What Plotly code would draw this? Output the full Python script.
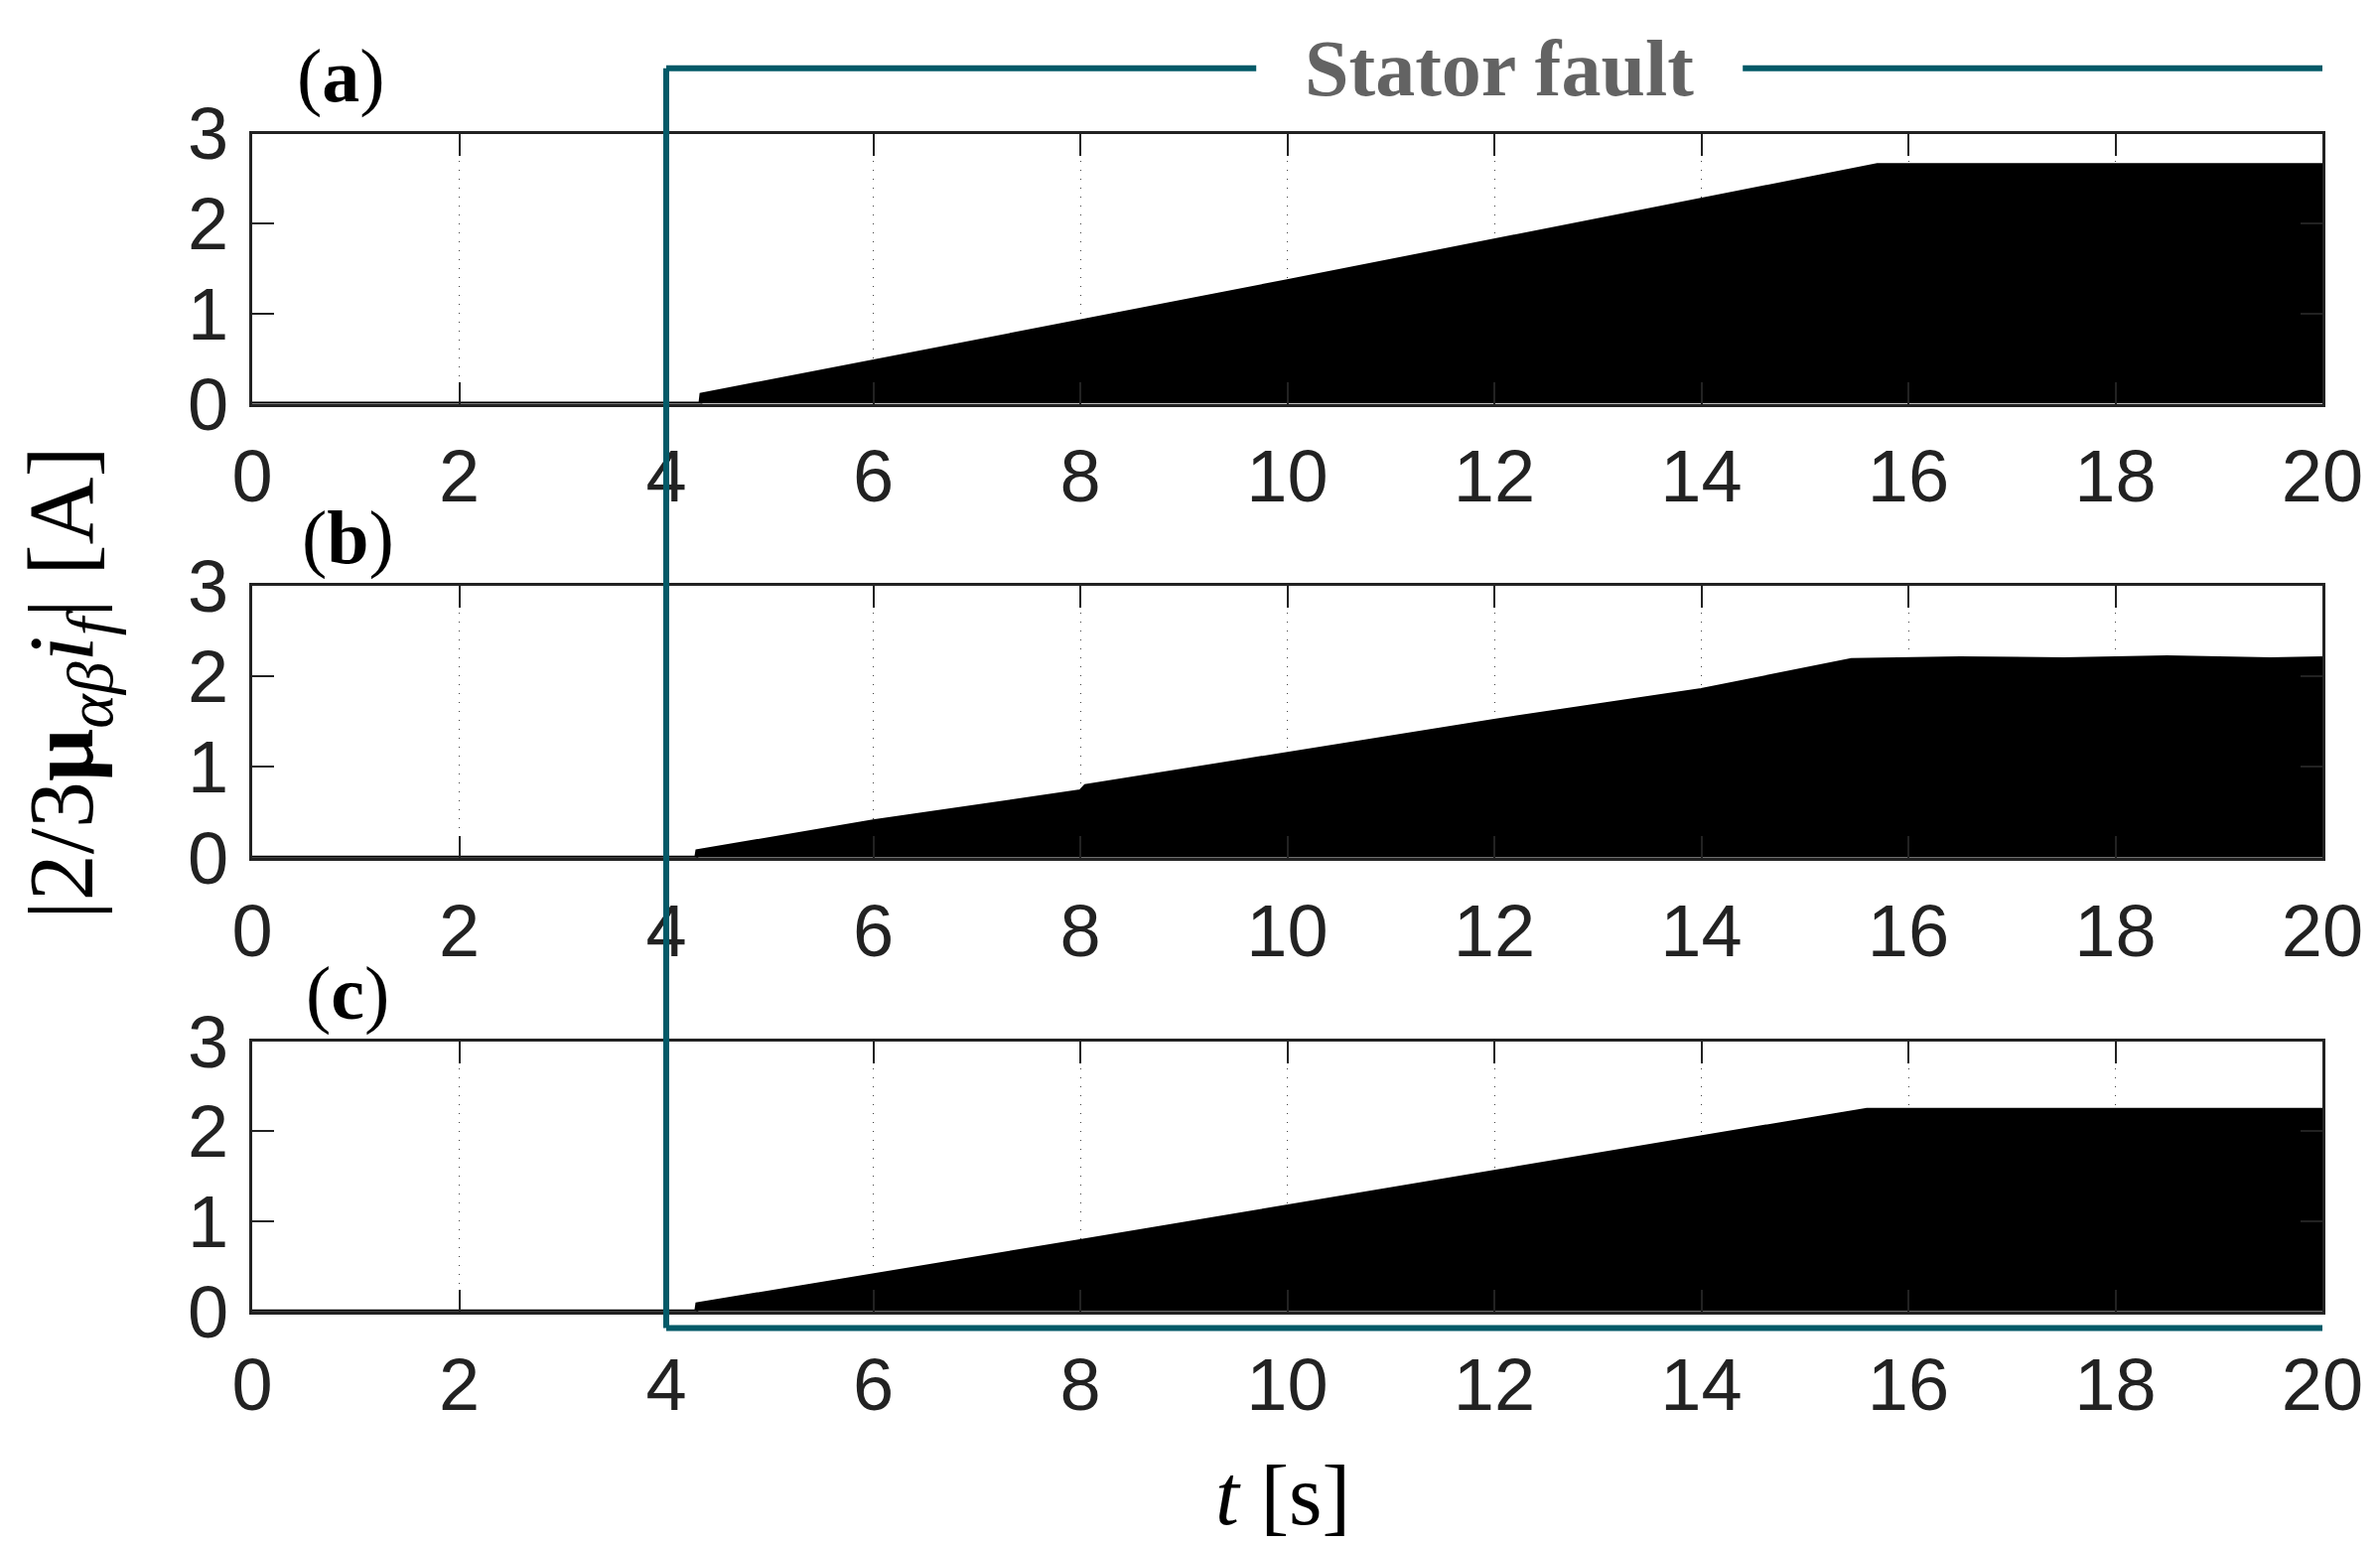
import plotly.graph_objects as go

# envelope of the fault current |2/3 mu_ab i_f| for the three cases
t_a = [0, 4.33, 4.34, 10.0, 15.7, 20]
env_a = [0, 0, 0.10, 1.36, 2.65, 2.65]

t_b = [0, 4.29, 4.3, 6.0, 8.0, 8.05, 12.0, 14.0, 15.45, 16.5, 17.5, 18.5, 19.5, 20]
env_b = [0, 0, 0.07, 0.40, 0.73, 0.79, 1.51, 1.85, 2.18, 2.20, 2.19, 2.21, 2.19, 2.20]

t_c = [0, 4.29, 4.3, 8.0, 12.0, 15.6, 20]
env_c = [0, 0, 0.08, 0.78, 1.55, 2.24, 2.24]

panels = [('a', t_a, env_a), ('b', t_b, env_b), ('c', t_c, env_c)]
x_ticks = list(range(0, 21, 2))
y_ticks = [0, 1, 2, 3]

W, H = 2397, 1556
OFF = 8  # page body margin


def px(x):
    return (x - OFF) / W


def py(y):
    return 1 - (y - OFF) / H


x_dom = [px(254), px(2339)]
y_doms = [[py(406.6), py(134.5)],
          [py(863.7), py(590)],
          [py(1320.8), py(1048.7)]]

tick_font = dict(family='Liberation Sans Narrow, Arial Narrow, Liberation Sans, Arial', size=74, color='#222')
serif = 'Liberation Serif, Times New Roman, serif'
teal = '#035a68'

fig = go.Figure()
layout = dict(width=W, height=H, margin=dict(l=0, r=0, t=0, b=0, pad=0, autoexpand=False),
              paper_bgcolor='white', plot_bgcolor='white', showlegend=False, autosize=False)

for i, (name, t, env) in enumerate(panels):
    k = '' if i == 0 else str(i + 1)
    fig.add_trace(go.Scatter(x=t, y=env, mode='lines', fill='tozeroy',
                             fillcolor='black', line=dict(color='black', width=4),
                             xaxis='x' + k, yaxis='y' + k, hoverinfo='skip'))
    layout['xaxis' + k] = dict(domain=x_dom, anchor='y' + k, range=[0, 20], automargin=False,
                               tickvals=x_ticks, ticks='inside', ticklen=22, tickwidth=2,
                               tickcolor='#222', showline=True, linecolor='#222', linewidth=3,
                               mirror='ticks', showgrid=True, gridcolor='#444', gridwidth=1,
                               griddash='1px,8px', zeroline=False, tickfont=tick_font,
                               ticklabelstandoff=7)
    layout['yaxis' + k] = dict(domain=y_doms[i], anchor='x' + k, range=[0, 3], automargin=False,
                               tickvals=y_ticks, ticks='inside', ticklen=22, tickwidth=2,
                               tickcolor='#222', showline=True, linecolor='#222', linewidth=3,
                               mirror='ticks', showgrid=False, zeroline=False, tickfont=tick_font,
                               ticklabelstandoff=6)

fig.update_layout(**layout)

# panel labels
label_pos = [(343, 77), (350, 541), (350, 1000)]
for (name, _, _), (lx, ly) in zip(panels, label_pos):
    fig.add_annotation(x=px(lx), y=py(ly), xref='paper', yref='paper',
                       text='(<b>%s</b>)' % name, showarrow=False,
                       xanchor='center', yanchor='middle',
                       font=dict(family=serif, size=76, color='black'))

# stator fault box (spans t = 4 ... 20 of the lower axis)
box_top = py(68.8)
box_bot = py(1337.6)
line = dict(color=teal, width=6)
fig.add_shape(type='line', xref='x3', yref='paper', x0=4, x1=4, y0=box_bot, y1=box_top, line=line)
fig.add_shape(type='line', xref='x3', yref='paper', x0=20.07, x1=20.07, y0=box_bot, y1=box_top, line=line)
fig.add_shape(type='line', xref='x3', yref='paper', x0=4, x1=20.07, y0=box_bot, y1=box_bot, line=line)
fig.add_shape(type='line', xref='x3', yref='paper', x0=4, x1=9.7, y0=box_top, y1=box_top, line=line)
fig.add_shape(type='line', xref='x3', yref='paper', x0=14.4, x1=20.07, y0=box_top, y1=box_top, line=line)
fig.add_annotation(x=12.05, y=box_top, xref='x3', yref='paper', text='<b>Stator fault</b>',
                   showarrow=False, xanchor='center', yanchor='middle',
                   font=dict(family=serif, size=80, color='#636363'))

# axis titles
fig.add_annotation(x=px(68), y=py(688), xref='paper', yref='paper', textangle=-90,
                   text='|2/3<b>μ</b><sub><i>αβ</i></sub><i>i<sub>f</sub></i>| [A]',
                   showarrow=False, xanchor='center', yanchor='middle',
                   font=dict(family=serif, size=94, color='black'))
fig.add_annotation(x=px(1292), y=py(1506), xref='paper', yref='paper',
                   text='<i>t</i> [s]', showarrow=False, xanchor='center', yanchor='middle',
                   font=dict(family=serif, size=86, color='black'))

fig.write_html('out.html')
